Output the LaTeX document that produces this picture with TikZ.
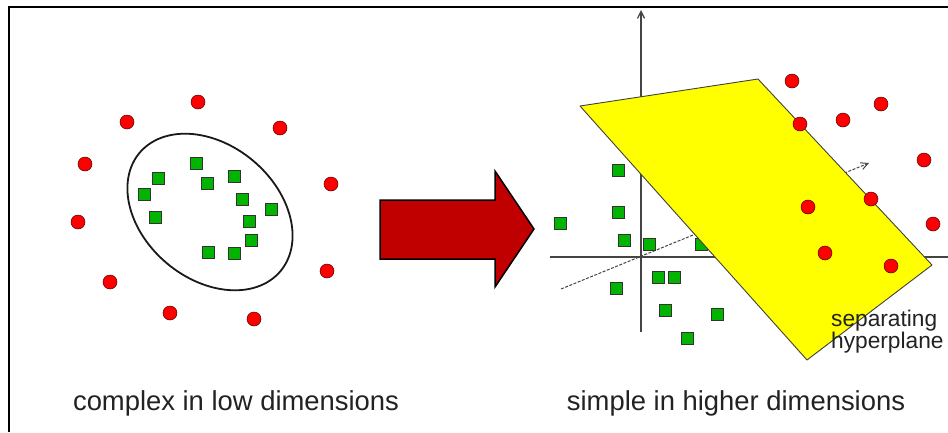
\documentclass[tikz,border=0pt]{standalone}
\usepackage{fontspec}
\setmainfont{Liberation Sans}
\usetikzlibrary{arrows.meta}
\definecolor{arrowred}{HTML}{C00000}
\definecolor{ptred}{HTML}{FF0000}
\definecolor{ptgreen}{HTML}{00B400}
\definecolor{plane}{HTML}{FFFF00}
\definecolor{axisgray}{HTML}{444444}
\definecolor{txt}{HTML}{222222}
\tikzset{
  redpt/.style={circle, fill=ptred, draw=black!70!red, line width=0.5pt, inner sep=0pt, minimum size=14pt},
  greenpt/.style={rectangle, fill=ptgreen, draw=black!80, line width=0.8pt, inner sep=0pt, minimum size=12pt},
  frameline/.style={line width=2pt, black},
  axisline/.style={line width=1.3pt, axisgray},
  caption/.style={font=\fontsize{27.4}{32}\selectfont, text=txt, inner sep=0pt, anchor=base},
  smalllabel/.style={font=\fontsize{22.7}{23}\selectfont, text=txt, inner sep=0pt, align=left, anchor=north west}
}
\begin{document}
\begin{tikzpicture}[x=1pt, y=-1pt]
\useasboundingbox (0,0) rectangle (948,432);
% frame
\coordinate (fbl) at (8.5,432);
\coordinate (ftl) at (8.5,6.5);
\coordinate (ftr) at (948,6.5);
\draw[frameline] (fbl) -- (ftl) -- (ftr);

% ---- left panel ----
\draw[line width=1.8pt, black!90]
  plot[domain=0:360, samples=120, smooth cycle]
  ({210 + 92*cos(\x)*cos(40) - 67*sin(\x)*sin(40)},
   {212 + 92*cos(\x)*sin(40) + 67*sin(\x)*cos(40)});

\node[redpt] (r1) at (198,102) {};
\node[redpt] (r2) at (127,122) {};
\node[redpt] (r3) at (280,128) {};
\node[redpt] (r4) at (85,164) {};
\node[redpt] (r5) at (331,184) {};
\node[redpt] (r6) at (78,222) {};
\node[redpt] (r7) at (327,271) {};
\node[redpt] (r8) at (110,282) {};
\node[redpt] (r9) at (170,313) {};
\node[redpt] (r10) at (254,319) {};

\node[greenpt] (s1) at (196,163) {};
\node[greenpt] (s2) at (158,178) {};
\node[greenpt] (s3) at (234,176) {};
\node[greenpt] (s4) at (207,183) {};
\node[greenpt] (s5) at (144,194) {};
\node[greenpt] (s6) at (242,199) {};
\node[greenpt] (s7) at (271,209) {};
\node[greenpt] (s8) at (155,217) {};
\node[greenpt] (s9) at (249,221) {};
\node[greenpt] (s10) at (251,240) {};
\node[greenpt] (s11) at (208,252) {};
\node[greenpt] (s12) at (234,253) {};

\node[caption] (capL) at (236,410) {complex in low dimensions};

% ---- block arrow ----
\draw[fill=arrowred, draw=black, line width=1.5pt, line join=miter]
  (380,200) -- (495,200) -- (495,171) -- (534,229) -- (495,287) -- (495,259) -- (380,259) -- cycle;

% ---- right panel ----
\coordinate (vb) at (641,332);
\coordinate (vt) at (641,10);
\coordinate (hl) at (550,257);
\coordinate (hr) at (948,257);
\coordinate (db) at (561,289);
\coordinate (dt) at (869,163);
\draw[axisline, -{Straight Barb[length=7pt, width=7pt]}] (vb) -- (vt);
\draw[axisline] (hl) -- (hr);
\draw[line width=1pt, axisgray, dash pattern=on 3pt off 1.5pt, -{Straight Barb[length=7pt, width=7pt]}] (db) -- (dt);

\node[greenpt] (S6) at (701,244) {};

% plane
\coordinate (pA) at (580,106);
\coordinate (pB) at (758,79);
\coordinate (pC) at (932,265);
\coordinate (pD) at (807,360);
\draw[fill=plane, draw=black!75, line width=0.9pt, line join=round] (pA) -- (pB) -- (pC) -- (pD) -- cycle;

\node[greenpt] (S1) at (618,170) {};
\node[greenpt] (S2) at (618,212) {};
\node[greenpt] (S3) at (560,223) {};
\node[greenpt] (S4) at (624,240) {};
\node[greenpt] (S5) at (649,244) {};
\node[greenpt] (S7) at (658,277) {};
\node[greenpt] (S8) at (674,277) {};
\node[greenpt] (S9) at (616,288) {};
\node[greenpt] (S10) at (665,310) {};
\node[greenpt] (S11) at (717,314) {};
\node[greenpt] (S12) at (687,338) {};

\node[redpt] (R1) at (792,81) {};
\node[redpt] (R2) at (881,104) {};
\node[redpt] (R3) at (800,124) {};
\node[redpt] (R4) at (843,120) {};
\node[redpt] (R5) at (924,160) {};
\node[redpt] (R6) at (808,207) {};
\node[redpt] (R7) at (871,199) {};
\node[redpt] (R8) at (933,224) {};
\node[redpt] (R9) at (825,253) {};
\node[redpt] (R10) at (891,266) {};

\node[smalllabel] (sep) at (831,310) {separating\\[-1pt]hyperplane};

\node[caption] (capR) at (736,410) {simple in higher dimensions};
\end{tikzpicture}
\end{document}
